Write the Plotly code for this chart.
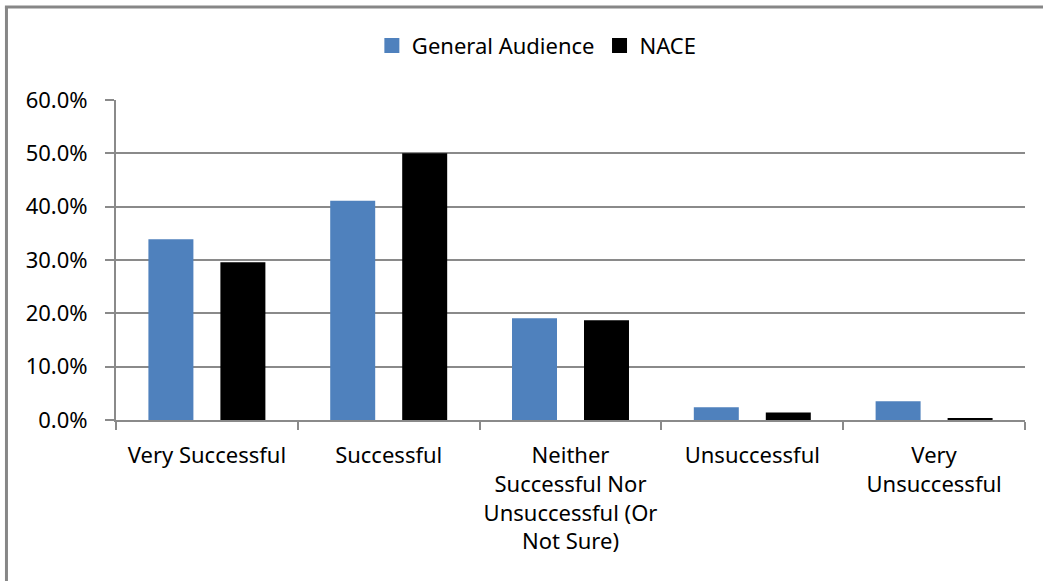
import plotly.graph_objects as go

categories = ["Very Successful", "Successful",
              "Neither<br>Successful Nor<br>Unsuccessful (Or<br>Not Sure)",
              "Unsuccessful", "Very<br>Unsuccessful"]
general_audience = [0.339, 0.411, 0.191, 0.024, 0.035]
nace = [0.296, 0.500, 0.187, 0.014, 0.003]
y_ticks = [0, 0.1, 0.2, 0.3, 0.4, 0.5, 0.6]

FONT = "Noto Sans"
GRID = "#8a8a8a"
BLUE = "#4F81BD"

fig = go.Figure()
fig.add_trace(go.Bar(name="General Audience", x=categories, y=general_audience,
                     marker=dict(color=BLUE, line=dict(width=0)), showlegend=False))
fig.add_trace(go.Bar(name="NACE", x=categories, y=nace,
                     marker=dict(color="#000000", line=dict(width=0)), showlegend=False))
# legend entries with larger square keys
fig.add_trace(go.Scatter(name="General Audience", x=[None], y=[None], mode="markers",
                         marker=dict(symbol="square", size=15, color=BLUE)))
fig.add_trace(go.Scatter(name="NACE", x=[None], y=[None], mode="markers",
                         marker=dict(symbol="square", size=15, color="#000000")))

fig.update_layout(
    width=1043, height=581,
    margin=dict(l=116, r=18, t=100, b=161, autoexpand=False),
    paper_bgcolor="white", plot_bgcolor="white",
    barmode="group", bargap=0.208, bargroupgap=0.375,
    font=dict(family=FONT, size=22, color="#000000"),
    legend=dict(orientation="h", x=0.463, xanchor="center", y=1.17, yanchor="middle",
                font=dict(size=22), itemwidth=30, traceorder="normal"),
    showlegend=True,
)
fig.update_yaxes(range=[0, 0.6], tickvals=y_ticks, tickformat=".1%",
                 showgrid=True, gridcolor=GRID, gridwidth=2,
                 showline=True, linecolor=GRID, linewidth=2,
                 ticks="outside", ticklen=9, tickcolor=GRID, tickwidth=2,
                 zeroline=False, fixedrange=True, ticklabelstandoff=13,
                 automargin=False)
fig.update_xaxes(showline=True, linecolor=GRID, linewidth=2,
                 ticks="outside", ticklen=8, tickcolor=GRID, tickwidth=2,
                 tickson="boundaries", showgrid=False, fixedrange=True,
                 ticklabelstandoff=15, tickangle=0, automargin=False)

# outer chart frame (left and top edges)
fig.add_shape(type="line", xref="paper", yref="paper",
              x0=-0.1205, x1=-0.1205, y0=1.2906, y1=-0.51,
              line=dict(color="#878787", width=3))
fig.add_shape(type="line", xref="paper", yref="paper",
              x0=-0.1222, x1=1.03, y0=1.2906, y1=1.2906,
              line=dict(color="#878787", width=3))

fig.write_html("out.html")
